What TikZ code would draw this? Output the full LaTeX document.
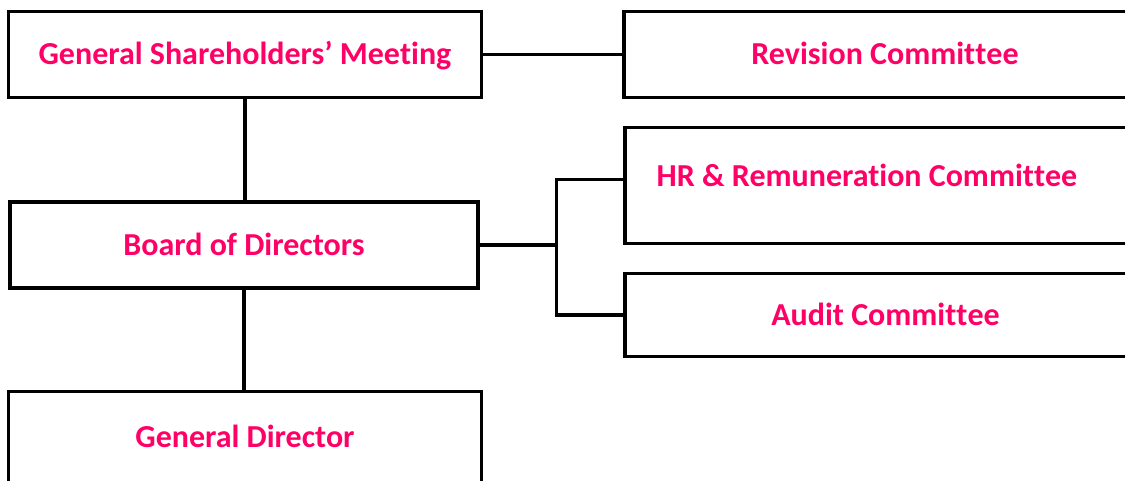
\documentclass[tikz,border=0pt]{standalone}
\usepackage{fontspec}
\setmainfont{Carlito}[RawFeature={-liga;-clig;-calt;-dlig}]
\definecolor{lblpink}{RGB}{255,0,102}
\begin{document}
\begin{tikzpicture}[x=1pt,y=-1pt,
  box/.style={draw=black, line width=3.5pt, fill=white, rectangle, inner sep=0pt},
  lbl/.style={text=lblpink, font=\bfseries\fontsize{32}{38}\selectfont, inner sep=0pt,
    text height=20.6pt, text depth=0pt},
  conn/.style={draw=black, line width=3.5pt}]
\useasboundingbox (0,0) rectangle (1125,480);
% boxes
\node[box, lbl, minimum width=473pt, minimum height=86pt] (gsm) at (245,54.5) {General Shareholders’ Mee\kern0pt ting};
\node[box, lbl, minimum width=522pt, minimum height=86pt] (rev) at (885,54.5) {Revision Commit\kern0pt t\kern0pt ee};
\node[box, lbl, minimum width=468pt, minimum height=86pt] (board) at (244,245) {Board of Directors};
\node[box, minimum width=521pt, minimum height=116pt] (hr) at (885.5,185.5) {};
\node[lbl] (hrt) at (867,176) {HR \& Remuneration Commit\kern0pt t\kern0pt ee};
\node[box, lbl, minimum width=521pt, minimum height=83pt] (audit) at (885.5,315) {Audit Commit\kern0pt t\kern0pt ee};
\node[box, lbl, minimum width=473pt, minimum height=91pt] (gd) at (245,437) {General Director};
% connectors
\draw[conn] (gsm.east) -- (rev.west);
\draw[conn] (gsm.south) -- (gsm.south |- board.north);
\draw[conn] (board.south) -- (board.south |- gd.north);
\coordinate (split) at (556.5,245);
\coordinate (hrjoin) at (625,179.5);
\draw[conn] (board.east) -- (split);
\draw[conn] (hrjoin) -- (split |- hrjoin) -- (split |- audit.west) -- (audit.west);
\end{tikzpicture}
\end{document}
